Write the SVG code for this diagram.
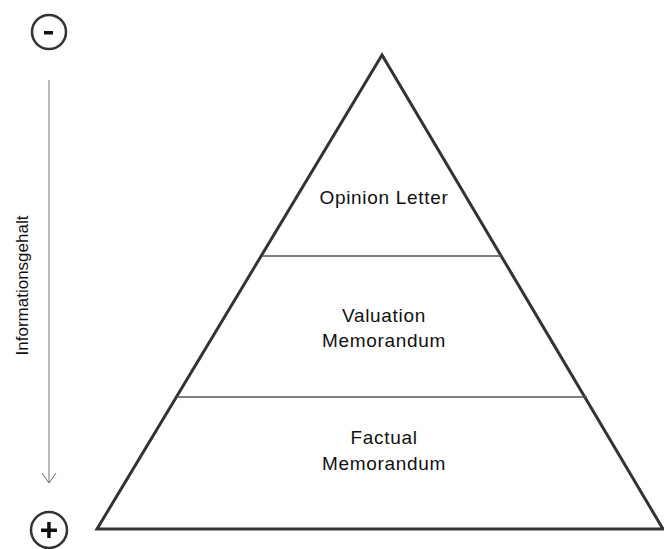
<svg xmlns="http://www.w3.org/2000/svg" width="664" height="549" viewBox="0 0 664 549">
<defs>
<style>
.lbl{font-family:"Liberation Sans",Arial,sans-serif;font-size:19px;letter-spacing:0.7px;fill:#111;text-anchor:middle}
.axis{font-family:"Liberation Sans",Arial,sans-serif;font-size:17px;fill:#111;text-anchor:middle}
.sym{fill:none;stroke:#333;stroke-width:2.5}
</style>
<marker id="arr" markerWidth="14" markerHeight="16" refX="11" refY="8" orient="auto" markerUnits="userSpaceOnUse" viewBox="0 0 14 16">
<path d="M1,1 L11,8 L1,15" fill="none" stroke="#666" stroke-width="1"/>
</marker>
</defs>
<rect width="664" height="549" fill="#fff"/>
<g id="pyramid">
<polygon points="382,55 97,529 663,529" fill="#fff" stroke="#333" stroke-width="3" stroke-linejoin="miter"/>
</g>
<g id="connectors">
<line x1="262" y1="256" x2="501" y2="256" stroke="#555" stroke-width="1.3"/>
<line x1="177" y1="397" x2="587" y2="397" stroke="#555" stroke-width="1.3"/>
<line x1="49" y1="80" x2="49" y2="483" stroke="#777" stroke-width="1" marker-end="url(#arr)"/>
</g>
<g id="opinion-letter">
<text class="lbl" x="384" y="204">Opinion Letter</text>
</g>
<g id="valuation-memorandum">
<text class="lbl" x="384" y="322">Valuation</text>
<text class="lbl" x="384" y="347">Memorandum</text>
</g>
<g id="factual-memorandum">
<text class="lbl" x="384" y="444">Factual</text>
<text class="lbl" x="384" y="470">Memorandum</text>
</g>
<g id="minus">
<circle class="sym" cx="49" cy="32" r="17"/>
<rect x="44" y="31" width="9" height="3.5" fill="#111"/>
</g>
<g id="plus">
<circle class="sym" cx="49" cy="530" r="18"/>
<rect x="41" y="528.5" width="16" height="3.5" fill="#111"/>
<rect x="47.2" y="522" width="3.5" height="16" fill="#111"/>
</g>
<g id="axis-label">
<text class="axis" transform="translate(28,285.5) rotate(-90)">Informationsgehalt</text>
</g>
</svg>
